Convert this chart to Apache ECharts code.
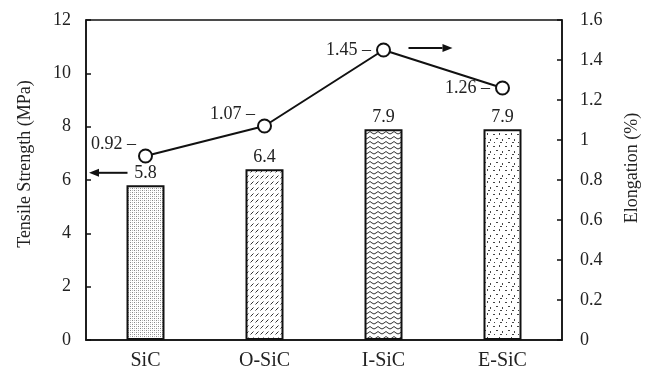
<!DOCTYPE html>
<html><head><meta charset="utf-8">
<script src="https://cdn.jsdelivr.net/npm/echarts@6/dist/echarts.min.js"></script>
<style>html,body{margin:0;padding:0;background:#fff}#c{width:653px;height:374px}</style>
</head><body><div id="c"></div>
<script>
var categories = ['SiC', 'O-SiC', 'I-SiC', 'E-SiC'];
var tensileStrength = [5.8, 6.4, 7.9, 7.9];
var elongation = [0.92, 1.07, 1.45, 1.26];
var leftAxisName = 'Tensile Strength (MPa)';
var rightAxisName = 'Elongation (%)';

function mk(w, h, draw) {
  var c = document.createElement('canvas'); c.width = w; c.height = h;
  var g = c.getContext('2d'); g.fillStyle = '#fff'; g.fillRect(0, 0, w, h);
  draw(g); return c;
}
var patStipple = mk(4, 4, function (g) {
  g.fillStyle = '#888'; g.fillRect(0, 0, 1, 1); g.fillRect(2, 2, 1, 1);
  g.fillStyle = '#bbb'; g.fillRect(2, 0, 1, 1); g.fillRect(0, 2, 1, 1);
});
var patSlash = mk(5, 6, function (g) {
  g.strokeStyle = '#333'; g.lineWidth = 1;
  g.beginPath(); g.moveTo(0.5, 4.5); g.lineTo(3.5, 1.5); g.stroke();
});
var patWave = mk(8, 5, function (g) {
  g.strokeStyle = '#333'; g.lineWidth = 1;
  g.beginPath(); g.moveTo(0, 3); g.quadraticCurveTo(2, 0, 4, 3); g.quadraticCurveTo(6, 5, 8, 3); g.stroke();
});
var patSparse = mk(12, 12, function (g) {
  g.fillStyle = '#444';
  g.fillRect(1, 2, 2, 1); g.fillRect(7, 1, 1, 2); g.fillRect(4, 6, 2, 1);
  g.fillRect(10, 7, 1, 2); g.fillRect(2, 10, 1, 1); g.fillRect(8, 10, 2, 1);
});
var pats = [patStipple, patSlash, patWave, patSparse];

var font = 'Liberation Serif';
var chart = echarts.init(document.getElementById('c'), null, { renderer: 'canvas' });
var option = {
  backgroundColor: '#fff',
  animation: false,
  grid: { left: 86, right: 91, top: 20, bottom: 34, show: true, borderColor: '#111', borderWidth: 1.5 },
  xAxis: {
    type: 'category', data: categories,
    axisLine: { lineStyle: { color: '#111', width: 1.5 } },
    axisTick: { show: false },
    axisLabel: { fontFamily: font, fontSize: 20, color: '#222', margin: 11 }
  },
  yAxis: [{
    type: 'value', min: 0, max: 12, interval: 2, position: 'left',
    name: leftAxisName, nameLocation: 'middle', nameGap: 52,
    nameTextStyle: { fontFamily: font, fontSize: 18, color: '#222', padding: [0, 0, 0, 32] },
    axisLine: { show: true, lineStyle: { color: '#111', width: 1.5 } },
    axisTick: { show: true, inside: true, length: 5, lineStyle: { color: '#111', width: 1.5 } },
    axisLabel: { fontFamily: font, fontSize: 18, color: '#222', margin: 15 },
    splitLine: { show: false }
  }, {
    type: 'value', min: 0, max: 1.6, interval: 0.2, position: 'right',
    name: rightAxisName, nameLocation: 'middle', nameGap: 61,
    nameTextStyle: { fontFamily: font, fontSize: 18, color: '#222', padding: [0, 0, 0, 24] },
    axisLine: { show: true, lineStyle: { color: '#111', width: 1.5 } },
    axisTick: { show: true, inside: true, length: 5, lineStyle: { color: '#111', width: 1.5 } },
    axisLabel: { fontFamily: font, fontSize: 18, color: '#222', margin: 18 },
    splitLine: { show: false }
  }],
  series: [{
    type: 'bar', yAxisIndex: 0, barWidth: 38,
    data: tensileStrength.map(function (v, i) {
      return { value: v, itemStyle: { color: { image: pats[i], repeat: 'repeat' } } };
    }),
    itemStyle: { borderColor: '#111', borderWidth: 2 },
    label: { show: true, position: 'top', distance: 3, fontFamily: font, fontSize: 18, color: '#222' }
  }, {
    type: 'line', yAxisIndex: 1, data: elongation.map(function (v, i) {
      var lifted = i < 2;
      return {
        value: v,
        label: lifted ? { position: 'left', distance: 6, offset: [4, -12] } : { position: 'left', distance: 5 }
      };
    }),
    symbol: 'circle', symbolSize: 13,
    itemStyle: { color: '#fff', borderColor: '#111', borderWidth: 2 },
    lineStyle: { color: '#111', width: 2 },
    label: {
      show: true, fontFamily: font, fontSize: 18, color: '#222',
      formatter: function (p) { return p.value + ' \u2013'; }
    },
    z: 5
  }]
};
chart.setOption(option);

function arrow(x1, y1, x2, y2) {
  var dx = x2 - x1, dy = y2 - y1, L = Math.sqrt(dx * dx + dy * dy);
  var ux = dx / L, uy = dy / L, hl = 10, hw = 4;
  var bx = x2 - ux * hl, by = y2 - uy * hl;
  return [{
    type: 'line', shape: { x1: x1, y1: y1, x2: bx, y2: by }, style: { stroke: '#111', lineWidth: 2 }
  }, {
    type: 'polygon',
    shape: { points: [[x2, y2], [bx - uy * hw, by + ux * hw], [bx + uy * hw, by - ux * hw]] },
    style: { fill: '#111' }
  }];
}
var cSiC = chart.convertToPixel({ xAxisIndex: 0 }, 'SiC');
var cI = chart.convertToPixel({ xAxisIndex: 0 }, 'I-SiC');
var yLeftArrow = chart.convertToPixel({ yAxisIndex: 0 }, 6.27);
var yRightArrow = chart.convertToPixel({ yAxisIndex: 1 }, 1.46);
var band = chart.convertToPixel({ xAxisIndex: 0 }, 'O-SiC') - cSiC;
var gl = cSiC - band / 2;
chart.setOption({
  graphic: arrow(cSiC - 18, yLeftArrow, gl + 3, yLeftArrow).concat(arrow(cI + 25, yRightArrow, cI + 69, yRightArrow))
});
</script></body></html>
